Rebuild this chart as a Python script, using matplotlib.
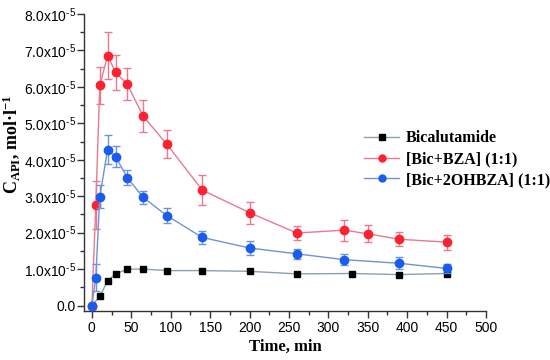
import matplotlib
matplotlib.use("Agg")
import matplotlib.pyplot as plt
from matplotlib.ticker import MultipleLocator, FixedLocator
from matplotlib.lines import Line2D

# ---- data (concentration in units of 1e-5 mol/l) ----
t_bic = [0, 10, 20, 30, 45, 65, 95, 140, 200, 260, 330, 390, 450]
c_bic = [0.0, 0.25, 0.68, 0.87, 1.0, 1.0, 0.96, 0.96, 0.94, 0.87, 0.88, 0.85, 0.88]

t_bza = [0, 5, 10, 20, 30, 45, 65, 95, 140, 200, 260, 320, 350, 390, 450]
c_bza = [0.0, 2.76, 6.04, 6.86, 6.40, 6.07, 5.20, 4.43, 3.17, 2.55, 1.99, 2.07, 1.97, 1.82, 1.74]
e_bza = [0.0, 0.65, 0.50, 0.64, 0.48, 0.44, 0.44, 0.39, 0.40, 0.30, 0.20, 0.29, 0.23, 0.19, 0.21]

t_oh = [0, 5, 10, 20, 30, 45, 65, 95, 140, 200, 260, 320, 390, 450]
c_oh = [0.0, 0.77, 2.99, 4.28, 4.09, 3.51, 2.97, 2.47, 1.87, 1.58, 1.42, 1.26, 1.16, 1.02]
e_oh = [0.0, 0.36, 0.32, 0.40, 0.30, 0.20, 0.18, 0.20, 0.18, 0.18, 0.14, 0.16, 0.17, 0.13]

series_names = ["Bicalutamide", "[Bic+BZA] (1:1)", "[Bic+2OHBZA] (1:1)"]
scale = 1e-5

ytick_vals = [0, 1, 2, 3, 4, 5, 6, 7, 8]
ytick_labels = ["0.0"] + [f"{v:.1f}x10$^{{\u20105}}$" for v in ytick_vals[1:]]
xtick_vals = [0, 50, 100, 150, 200, 250, 300, 350, 400, 450, 500]

plt.rcParams["mathtext.default"] = "regular"
plt.rcParams["font.family"] = ["Liberation Sans", "DejaVu Sans"]

fig = plt.figure(figsize=(5.5, 3.6), dpi=100)
ax = fig.add_axes([0.1527, 0.136, 0.7309, 0.825])

col_bic_line = "#8aa0ae"
col_bza_line, col_bza_mk = "#ee7790", "#ff2030"
col_oh_line, col_oh_mk = "#6f93d8", "#1a5cf0"

# Bicalutamide
ax.plot(t_bic, [v * scale for v in c_bic], color=col_bic_line, lw=1.0,
        marker="s", ms=5, mfc="black", mec="black", zorder=3)
# BZA
ax.errorbar(t_bza, [v * scale for v in c_bza], yerr=[v * scale for v in e_bza],
            color=col_bza_line, lw=1.0, ecolor=col_bza_line, elinewidth=1.0, capsize=3,
            marker="o", ms=6, mfc=col_bza_mk, mec=col_bza_mk, zorder=3)
# 2OHBZA
ax.errorbar(t_oh, [v * scale for v in c_oh], yerr=[v * scale for v in e_oh],
            color=col_oh_line, lw=1.0, ecolor=col_oh_line, elinewidth=1.0, capsize=3,
            marker="o", ms=6, mfc=col_oh_mk, mec=col_oh_mk, zorder=4)

ax.set_xlim(-10, 500)
ax.set_ylim(-0.15e-5, 8.0e-5)
ax.spines["top"].set_visible(False)
ax.spines["right"].set_visible(False)
for s in ("left", "bottom"):
    ax.spines[s].set_linewidth(1.0)
    ax.spines[s].set_color("#333333")

ax.xaxis.set_major_locator(FixedLocator(xtick_vals))
ax.xaxis.set_minor_locator(MultipleLocator(25))
ax.set_yticks([v * scale for v in ytick_vals])
ax.set_yticklabels(ytick_labels)
ax.yaxis.set_minor_locator(MultipleLocator(0.5e-5))
ax.tick_params(axis="both", which="major", direction="out", length=5, width=1,
               labelsize=10, color="#333333", pad=2)
ax.tick_params(axis="y", which="major", pad=1)
ax.tick_params(axis="both", which="minor", direction="out", length=3, width=1,
               color="#333333")

ax.set_xlabel("Time, min", family="Liberation Serif", fontweight="bold", fontsize=12,
              labelpad=3)
ax.set_ylabel("C$_{API}$, mol·l$^{-1}$", family="Liberation Serif", fontweight="bold",
              fontsize=13)
ax.yaxis.set_label_coords(-0.155, 0.56)

handles = [
    Line2D([], [], color=col_bic_line, lw=1.0, marker="s", ms=4, mfc="black", mec="black"),
    Line2D([], [], color=col_bza_line, lw=1.0, marker="o", ms=5, mfc=col_bza_mk, mec=col_bza_mk),
    Line2D([], [], color=col_oh_line, lw=1.0, marker="o", ms=5, mfc=col_oh_mk, mec=col_oh_mk),
]
leg = ax.legend(handles, series_names, loc="center left", bbox_to_anchor=(0.697, 0.511),
                frameon=False,
                prop={"family": "Liberation Serif", "weight": "bold", "size": 11.5},
                handlelength=2.2, handletextpad=0.4, labelspacing=0.3,
                borderaxespad=0, borderpad=0)

fig.savefig("out.png", dpi=100)
